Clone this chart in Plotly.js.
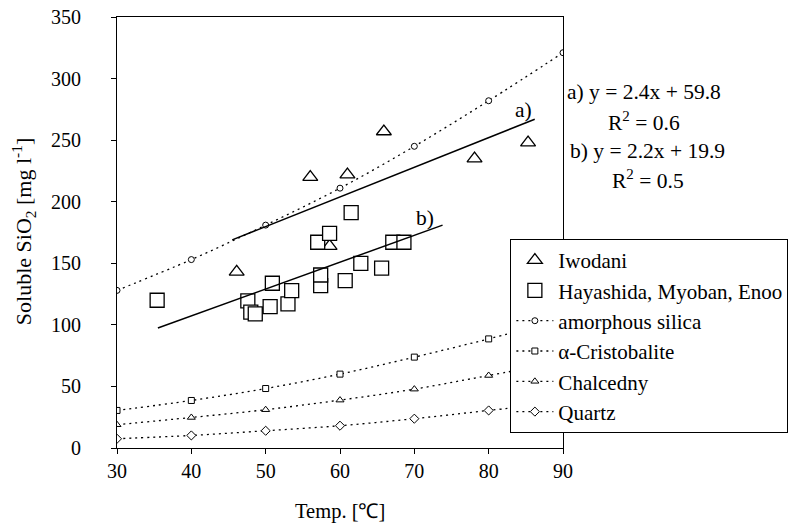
<!DOCTYPE html>
<html>
<head>
<meta charset="utf-8">
<script src="https://cdn.plot.ly/plotly-3.0.1.min.js"></script>
<style>html,body{margin:0;padding:0;background:#fff;}#chart{width:793px;height:527px;}</style>
</head>
<body>
<div id="chart"></div>
<script>
// ---- data ----
const iwodaniX = [46.1, 56.0, 61.0, 58.6, 65.9, 78.1, 85.3];
const iwodaniY = [143, 220, 222, 164, 257, 235, 248];

const hayaX = [35.4, 47.6, 48.0, 48.6, 50.6, 50.9, 53.0, 53.5, 57.4, 57.4, 60.7, 62.8, 65.6, 57.0, 58.6, 61.5, 67.1, 68.6];
const hayaY = [120, 119.5, 110.3, 108.9, 114.8, 133.8, 117, 127.8, 131.9, 140.5, 135.9, 150, 146, 167.1, 174.3, 191.1, 167.1, 167.1];

const tempX = [30, 40, 50, 60, 70, 80, 90];
const amorphous = [128, 153, 181, 211, 245, 282, 321];
const cristobalite = [30.5, 38.6, 48.3, 60, 73.8, 88.6, 104.5];
const chalcedny = [18.9, 24.8, 31.1, 38.9, 47.8, 58.9, 70];
const quartz = [7.5, 10.2, 14, 18.1, 23.8, 30.5, 37];

const regAx = [45.5, 86.2];
const regAy = [169, 267];
const regBx = [35.5, 73.8];
const regBy = [97.5, 181];

const xTicks = [30, 40, 50, 60, 70, 80, 90];
const yTicks = [0, 50, 100, 150, 200, 250, 300, 350];

const FONT = "'Liberation Serif', 'Times New Roman', Times, serif";
const dotted = {color: "black", width: 1.3, dash: "2px,4px", shape: "spline"};

const traces = [
  {x: iwodaniX, y: iwodaniY, mode: "markers", name: "Iwodani",
   marker: {symbol: "triangle-up", size: 13, color: "white", line: {color: "black", width: 1.3}}},
  {x: hayaX, y: hayaY, mode: "markers", name: "Hayashida, Myoban, Enoo",
   marker: {symbol: "square", size: 14, color: "white", line: {color: "black", width: 1.3}}},
  {x: tempX, y: amorphous, mode: "lines+markers", name: "amorphous silica", line: dotted,
   marker: {symbol: "circle", size: 6, color: "white", line: {color: "black", width: 1}}},
  {x: tempX, y: cristobalite, mode: "lines+markers", name: "α-Cristobalite", line: dotted,
   marker: {symbol: "square", size: 6, color: "white", line: {color: "black", width: 1}}},
  {x: tempX, y: chalcedny, mode: "lines+markers", name: "Chalcedny", line: dotted,
   marker: {symbol: "triangle-up", size: 7, color: "white", line: {color: "black", width: 1}}},
  {x: tempX, y: quartz, mode: "lines+markers", name: "Quartz", line: dotted,
   marker: {symbol: "diamond", size: 7, color: "white", line: {color: "black", width: 1}}},
  {x: regAx, y: regAy, mode: "lines", showlegend: false, line: {color: "black", width: 1.5}},
  {x: regBx, y: regBy, mode: "lines", showlegend: false, line: {color: "black", width: 1.5}}
];

const annFont = {family: FONT, size: 21.5, color: "black"};
const tickFont = {family: FONT, size: 20, color: "black"};

// y tick labels placed as annotations (farther from the axis, as in the reference)
const yTickAnns = yTicks.map(v => ({
  xref: "paper", yref: "y", x: -0.076, y: v, text: String(v),
  showarrow: false, font: tickFont, xanchor: "right", yanchor: "middle"
}));

const layout = {
  width: 793, height: 527,
  margin: {l: 117, r: 230, t: 17, b: 79, autoexpand: false},
  paper_bgcolor: "white", plot_bgcolor: "white",
  font: {family: FONT, size: 20, color: "black"},
  showlegend: true,
  legend: {x: 0.882, y: 0.485, xanchor: "left", yanchor: "top",
    bgcolor: "white", bordercolor: "black", borderwidth: 1, itemwidth: 37,
    font: {family: FONT, size: 21, color: "black"}},
  xaxis: {range: [30, 90], tickvals: xTicks, ticktext: xTicks.map(String),
    showline: true, linecolor: "black", linewidth: 1, mirror: true,
    ticks: "outside", ticklen: 5, tickcolor: "black", showgrid: false, zeroline: false,
    tickfont: tickFont},
  yaxis: {range: [0, 350], tickvals: yTicks, showticklabels: false,
    showline: true, linecolor: "black", linewidth: 1, mirror: true,
    ticks: "outside", ticklen: 5, tickcolor: "black", showgrid: false, zeroline: false},
  annotations: yTickAnns.concat([
    {xref: "paper", yref: "paper", x: -0.2105, y: 0.501, text: "Soluble SiO<sub>2</sub> [mg l<sup>-1</sup>]", textangle: -90,
     showarrow: false, font: {family: FONT, size: 22, color: "black"}, xanchor: "center", yanchor: "middle"},
    {xref: "paper", yref: "paper", x: 0.4993, y: -0.1476, text: "Temp. [℃]",
     showarrow: false, font: {family: FONT, size: 20.5, color: "black"}, xanchor: "center", yanchor: "middle"},
    {xref: "paper", yref: "paper", x: 1.182, y: 0.8255, text: "a) y = 2.4x + 59.8", showarrow: false, font: annFont, xanchor: "center", yanchor: "middle"},
    {xref: "paper", yref: "paper", x: 1.182, y: 0.758, text: "R<sup>2</sup> = 0.6", showarrow: false, font: annFont, xanchor: "center", yanchor: "middle"},
    {xref: "paper", yref: "paper", x: 1.190, y: 0.689, text: "b) y = 2.2x + 19.9", showarrow: false, font: annFont, xanchor: "center", yanchor: "middle"},
    {xref: "paper", yref: "paper", x: 1.190, y: 0.622, text: "R<sup>2</sup> = 0.5", showarrow: false, font: annFont, xanchor: "center", yanchor: "middle"},
    {xref: "x", yref: "y", x: 84.7, y: 274.3, text: "a)", showarrow: false, font: annFont},
    {xref: "x", yref: "y", x: 71.4, y: 186.7, text: "b)", showarrow: false, font: annFont}
  ])
};

Plotly.newPlot("chart", traces, layout, {staticPlot: true, displayModeBar: false});
</script>
</body>
</html>
